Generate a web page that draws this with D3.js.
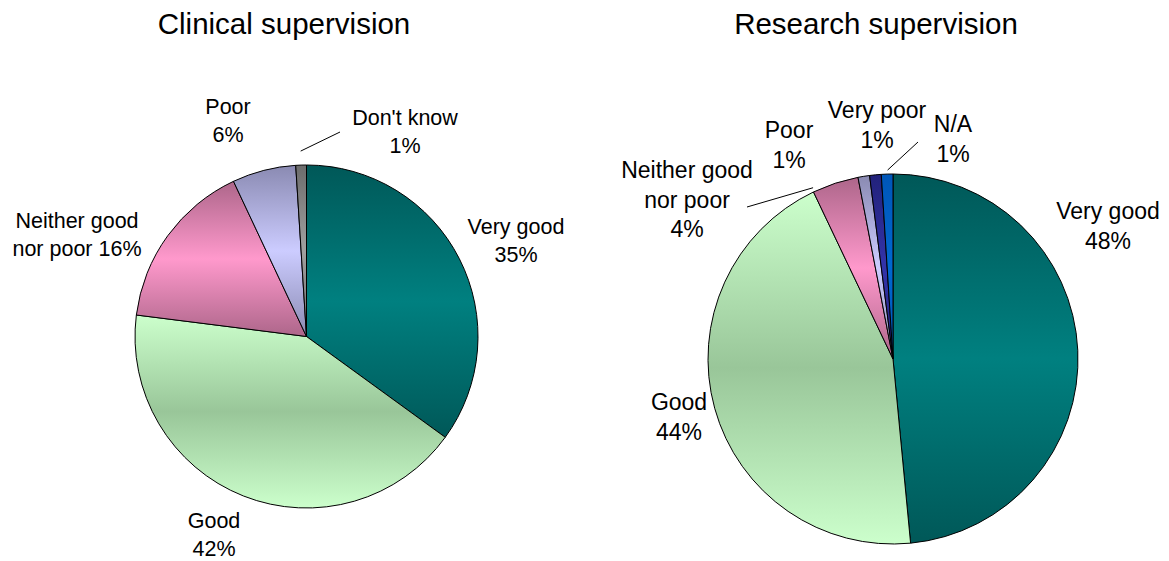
<!DOCTYPE html>
<html>
<head>
<meta charset="utf-8">
<script src="https://cdn.jsdelivr.net/npm/d3@7"></script>
<style>
  html, body { margin: 0; padding: 0; background: #ffffff; }
  svg { display: block; font-family: "Liberation Sans", Arial, sans-serif; }
</style>
</head>
<body>
<svg id="chart" width="1169" height="561"></svg>
<script>
// Survey answers, in percent
const clinicalCategories = ["Very good", "Good", "Neither good nor poor", "Poor", "Don't know"];
const clinicalValues = [35, 42, 16, 6, 1];
const clinicalLabels = ["Very good\n{v}%", "Good\n{v}%", "Neither good\nnor poor {v}%", "Poor\n{v}%", "Don't know\n{v}%"];

const researchCategories = ["Very good", "Good", "Neither good nor poor", "Poor", "Very poor", "N/A"];
const researchValues = [48, 44, 4, 1, 1, 1];
const researchLabels = ["Very good\n{v}%", "Good\n{v}%", "Neither good\nnor poor\n{v}%", "Poor\n{v}%", "Very poor\n{v}%", "N/A\n{v}%"];

// Fill per category: [edge colour, middle colour] of a vertical gradient
const palette = {
  "Very good": ["#005858", "#008080"],
  "Good": ["#ccffcc", "#99c699"],
  "Neither good nor poor": ["#ad668a", "#ff99cc"],
  "Poor": ["#8a8ab2", "#ccccff"],
  "Don't know": ["#6c6c6c", "#a0a0a0"],
  "Very poor": ["#22227a", "#3333aa"],
  "N/A": ["#0056b8", "#0068d0"]
};

const svg = d3.select("#chart");
const defs = svg.append("defs");

function drawPie(cfg) {
  const data = cfg.categories.map((c, i) => ({ category: c, value: cfg.values[i], label: cfg.labels[i] }));
  const pie = d3.pie().sort(null).value(d => d.value);
  const arcs = pie(data);
  const arc = d3.arc().innerRadius(0).outerRadius(cfg.r);

  const g = svg.append("g").attr("transform", `translate(${cfg.cx},${cfg.cy})`);

  // title
  svg.append("text")
    .attr("x", cfg.titleX).attr("y", 34)
    .attr("text-anchor", "middle")
    .attr("font-size", 29.5)
    .attr("fill", "#000")
    .text(cfg.title);

  arcs.forEach((a, i) => {
    const [edge, mid] = palette[a.data.category];
    const id = `${cfg.id}-grad-${i}`;
    const lg = defs.append("linearGradient").attr("id", id)
      .attr("x1", 0).attr("y1", 0).attr("x2", 0).attr("y2", 1);
    lg.append("stop").attr("offset", "0%").attr("stop-color", edge);
    lg.append("stop").attr("offset", "50%").attr("stop-color", mid);
    lg.append("stop").attr("offset", "100%").attr("stop-color", edge);

    g.append("path")
      .attr("d", arc(a))
      .attr("fill", `url(#${id})`)
      .attr("stroke", "#000")
      .attr("stroke-width", 1)
      .attr("stroke-linejoin", "round");
  });

  // data labels
  arcs.forEach((a, i) => {
    const pos = cfg.labelPos[i];
    const lines = a.data.label.replace("{v}", a.data.value).split("\n");
    const t = g.append("text")
      .attr("text-anchor", "middle")
      .attr("font-size", cfg.fontSize)
      .attr("fill", "#000");
    lines.forEach((ln, k) => {
      t.append("tspan").attr("x", pos[0]).attr("y", pos[1] + k * cfg.lineHeight).text(ln);
    });
  });

  // leader lines for the narrow slices
  cfg.leaders.forEach(ld => {
    const a = arcs[ld.index];
    const ang = a.startAngle + (a.endAngle - a.startAngle) * ld.along;
    const rr = cfg.r + ld.gap;
    g.append("line")
      .attr("x1", rr * Math.sin(ang)).attr("y1", -rr * Math.cos(ang))
      .attr("x2", ld.end[0]).attr("y2", ld.end[1])
      .attr("stroke", "#000").attr("stroke-width", 1);
  });
}

drawPie({
  id: "clinical",
  title: "Clinical supervision",
  titleX: 284,
  categories: clinicalCategories,
  values: clinicalValues,
  labels: clinicalLabels,
  cx: 306.5, cy: 336.5, r: 171.5,
  fontSize: 21.5, lineHeight: 27.5,
  labelPos: [[209.5, -102.5], [-92.5, 191.5], [-229.5, -108.5], [-78.5, -222.5], [98.5, -211.5]],
  leaders: [{ index: 4, along: 0.5, gap: 14, end: [33.5, -204.5] }]
});

drawPie({
  id: "research",
  title: "Research supervision",
  titleX: 876,
  categories: researchCategories,
  values: researchValues,
  labels: researchLabels,
  cx: 893, cy: 359, r: 185,
  fontSize: 23, lineHeight: 29.5,
  labelPos: [[215, -140], [-214, 51], [-206, -181], [-104, -221], [-16, -241], [60, -227]],
  leaders: [
    { index: 2, along: 0.03, gap: 4, end: [-146, -152] },
    { index: 5, along: 0.55, gap: 4, end: [25, -217] }
  ]
});
</script>
</body>
</html>
